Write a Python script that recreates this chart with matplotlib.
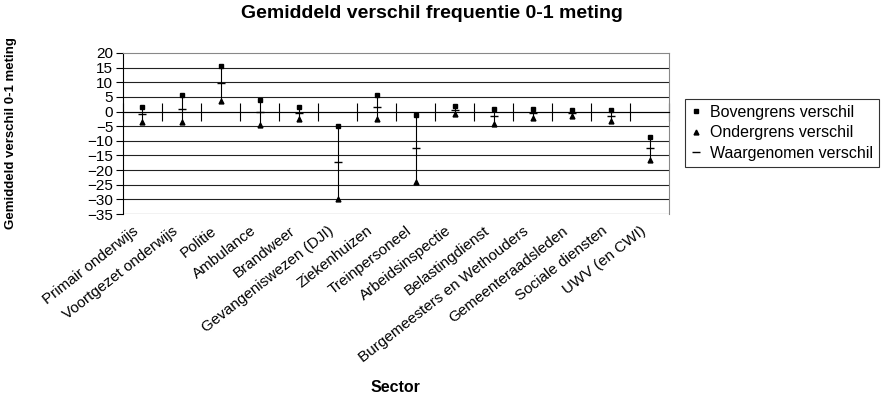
import numpy as np
import matplotlib.pyplot as plt
from matplotlib.transforms import blended_transform_factory

plt.rcParams['font.family'] = ['Liberation Sans', 'DejaVu Sans']

sectoren = ['Primair onderwijs', 'Voortgezet onderwijs', 'Politie', 'Ambulance',
            'Brandweer', 'Gevangeniswezen (DJI)', 'Ziekenhuizen', 'Treinpersoneel',
            'Arbeidsinspectie', 'Belastingdienst', 'Burgemeesters en Wethouders',
            'Gemeenteraadsleden', 'Sociale diensten', 'UWV (en CWI)']
bovengrens = [1.4, 5.5, 15.7, 4.0, 1.5, -5.1, 5.5, -1.2, 2.0, 0.9, 0.9, 0.5, 0.5, -8.6]
ondergrens = [-3.5, -3.5, 3.7, -4.5, -2.6, -30.0, -2.7, -24.0, -0.8, -4.1, -2.2, -1.6, -3.4, -16.6]
waargenomen = [-0.8, 0.9, 9.8, -0.1, -0.5, -17.2, 1.5, -12.6, 0.6, -1.5, -0.6, -0.6, -1.5, -12.6]

x = np.arange(len(sectoren))

fig = plt.figure(figsize=(8.81, 4.0), dpi=100)
ax = fig.add_axes([0.1396, 0.465, 0.62, 0.4025])

# rasterlijnen
for v in range(-35, 20, 5):
    ax.axhline(v, color='#222222', lw=0.8, zorder=1)

ax.vlines(x, ondergrens, bovengrens, color='black', lw=0.8, zorder=2)
ax.plot(x, bovengrens, 's', color='black', ms=3, ls='none', zorder=3, label='Bovengrens verschil')
ax.plot(x, ondergrens, '^', color='black', ms=3.5, ls='none', zorder=3, label='Ondergrens verschil')
ax.plot(x, waargenomen, '_', color='black', ms=6, mew=1, ls='none', zorder=3, label='Waargenomen verschil')

ax.set_xlim(-0.5, len(sectoren) - 0.5)
ax.set_ylim(-35, 20)
ax.set_yticks(range(-35, 21, 5))
ax.tick_params(axis='y', labelsize=11, length=5, direction='out', width=0.8, pad=2)

ax.spines['bottom'].set_position(('data', 0))
ax.spines['bottom'].set_color('black')
ax.spines['left'].set_color('black')
ax.spines['top'].set_color('#888888')
ax.spines['right'].set_color('#888888')
ax.set_xticks(np.arange(-0.5, len(sectoren), 1))
ax.set_xticklabels([])
ax.tick_params(axis='x', direction='inout', length=13, width=0.8)

trans = blended_transform_factory(ax.transData, ax.transAxes)
for xi, naam in zip(x, sectoren):
    ax.text(xi - 0.25, -0.06, naam, transform=trans, rotation=38, ha='right', va='top',
            rotation_mode='anchor', fontsize=11)

fig.text(0.49, 0.965, 'Gemiddeld verschil frequentie 0-1 meting', ha='center', va='center',
         fontsize=14, fontweight='bold')
fig.text(0.0125, 0.667, 'Gemiddeld verschil 0-1 meting', rotation=90, ha='center', va='center',
         fontsize=9.5, fontweight='bold')
fig.text(0.449, 0.03, 'Sector', ha='center', va='center', fontsize=11.5, fontweight='bold')

leg = fig.legend(loc='upper left', bbox_to_anchor=(0.778, 0.752), frameon=True, fancybox=False,
                 fontsize=11.5, handlelength=0.6, handletextpad=0.6, borderpad=0.35,
                 labelspacing=0.35, borderaxespad=0)
leg.get_frame().set_edgecolor('black')
leg.get_frame().set_linewidth(0.8)

fig.savefig('out.png', dpi=100)
